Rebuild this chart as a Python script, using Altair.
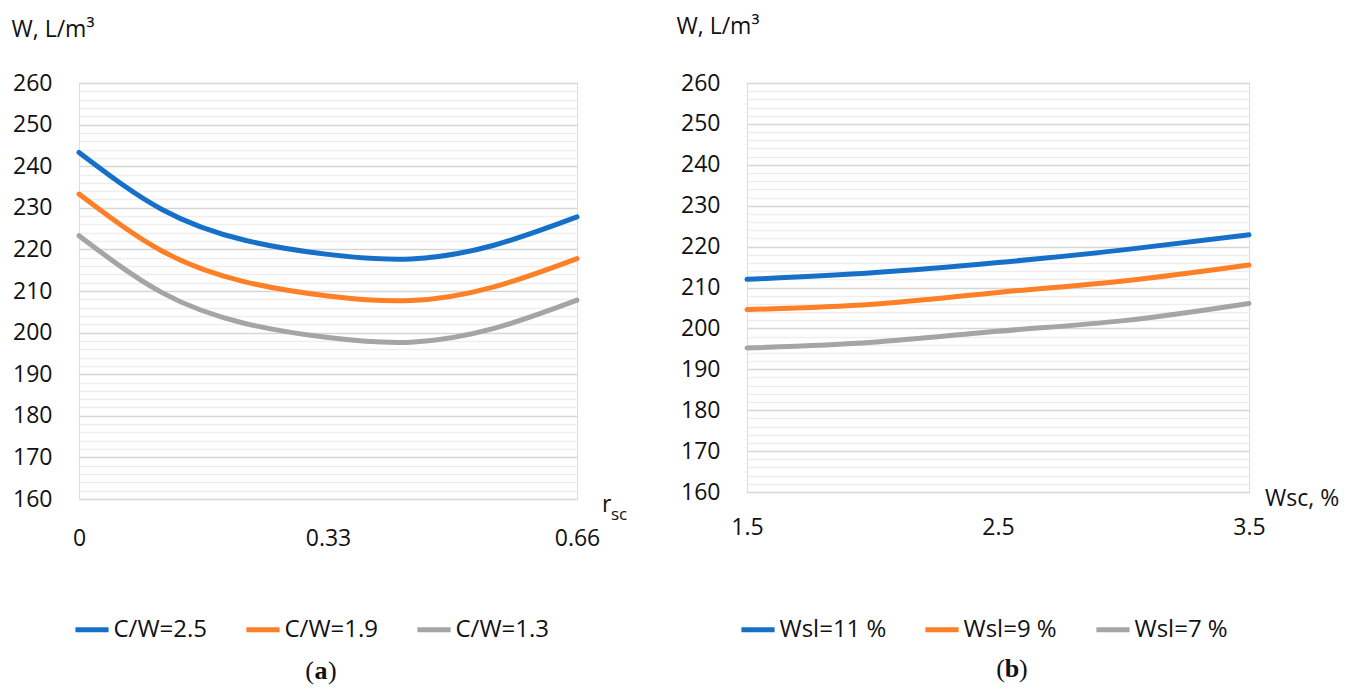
import altair as alt
import pandas as pd

FONT = "Open Sans"
SERIF = "Liberation Serif"
TXT = "#111111"

# ---------------- data: panel (a) ----------------
rsc = [0, 0.11, 0.22, 0.33, 0.44, 0.55, 0.66]
cw25 = [243.3, 229.6, 222.2, 218.8, 217.7, 221.0, 227.8]
cw19 = [233.3, 219.6, 212.2, 208.8, 207.7, 211.0, 217.8]
cw13 = [223.3, 209.6, 202.2, 198.8, 197.7, 201.0, 207.8]
series_a = ["C/W=2.5", "C/W=1.9", "C/W=1.3"]
x_ticks_a = [0, 0.33, 0.66]

# ---------------- data: panel (b) ----------------
wsc = [1.5, 2.0, 2.5, 3.0, 3.5]
wsl11 = [212.0, 213.6, 216.1, 219.2, 222.9]
wsl9 = [204.6, 205.9, 208.8, 211.6, 215.5]
wsl7 = [195.2, 196.6, 199.3, 201.9, 206.1]
series_b = ["Wsl=11 %", "Wsl=9 %", "Wsl=7 %"]
x_ticks_b = [1.5, 2.5, 3.5]

colors = ["#1770C8", "#FF7F27", "#A5A5A5"]
y_ticks = list(range(160, 262, 2))
y_title = "W, L/m\u00b3"


def long_df(xs, names, cols):
    rows = []
    for name, vals in zip(names, cols):
        for x, v in zip(xs, vals):
            rows.append({"x": x, "W": v, "s": name})
    return pd.DataFrame(rows)


df_a = long_df(rsc, series_a, [cw25, cw19, cw13])
df_b = long_df(wsc, series_b, [wsl11, wsl9, wsl7])


def y_axis(tx, ty):
    return alt.Axis(
        values=y_ticks,
        labelExpr="datum.value % 10 === 0 ? datum.label : ''",
        title=y_title, titleAngle=0, titleAlign="left", titleBaseline="middle",
        titleX=tx, titleY=ty, titleFont=FONT, titleFontSize=23,
        titleFontWeight="normal", titleColor=TXT,
        labelFont=FONT, labelFontSize=23, labelColor=TXT, labelPadding=27,
        labelOverlap=False, ticks=False, domain=False, grid=True,
        gridColor={"condition": {"test": "datum.value % 10 === 0", "value": "#D6D6D6"},
                   "value": "#EEEEEE"},
        gridWidth=1.3,
    )


def x_axis(vals, expr, pad):
    return alt.Axis(values=vals, labelExpr=expr, title=None, labelFont=FONT,
                    labelFontSize=23, labelColor=TXT, labelPadding=pad,
                    labelFlush=False, ticks=False, domain=False, grid=False)


def legend(lx, ly):
    return alt.Legend(orient="none", legendX=lx, legendY=ly, direction="horizontal",
                      title=None, symbolType="stroke", symbolSize=1100,
                      symbolStrokeWidth=5, labelFont=FONT, labelFontSize=24,
                      labelColor=TXT, labelOffset=2, columnPadding=28, padding=0)


def txt(t, x, y, size=23, align="left", font=FONT, weight="normal"):
    return alt.Chart(alt.Data(values=[{}])).mark_text(
        text=t, align=align, baseline="middle", font=font, fontSize=size,
        fontWeight=weight, color=TXT
    ).encode(x=alt.value(x), y=alt.value(y))


def caption(letter, cx, cy):
    return [
        txt("(", cx - 7, cy, 26, "right", SERIF),
        txt(letter, cx, cy, 26, "center", SERIF, "bold"),
        txt(")", cx + 7, cy, 26, "left", SERIF),
    ]


# ---------------- panel (a) ----------------
W_A, H_A = 498, 416
lines_a = alt.Chart(df_a).mark_line(strokeWidth=5, interpolate="natural", strokeCap="round").encode(
    x=alt.X("x:Q", scale=alt.Scale(domain=[0, 0.66], nice=False, zero=False),
            axis=x_axis(x_ticks_a, "datum.value === 0 ? '0' : format(datum.value, '.2f')", 28)),
    y=alt.Y("W:Q", scale=alt.Scale(domain=[160, 260], nice=False, zero=False),
            axis=y_axis(-68, -54)),
    color=alt.Color("s:N", scale=alt.Scale(domain=series_a, range=colors),
                    legend=legend(-6.5, 527)),
    order=alt.Order("x:Q"),
)
panel_a = alt.layer(
    lines_a,
    txt("r", 523, 422),
    txt("sc", 532, 432, 17),
    *caption("a", 242, 588),
).properties(width=W_A, height=H_A)

# ---------------- panel (b) ----------------
W_B, H_B = 502, 409
lines_b = alt.Chart(df_b).mark_line(strokeWidth=5, interpolate="natural", strokeCap="round").encode(
    x=alt.X("x:Q", scale=alt.Scale(domain=[1.5, 3.5], nice=False, zero=False),
            axis=x_axis(x_ticks_b, "format(datum.value, '.1f')", 24)),
    y=alt.Y("W:Q", scale=alt.Scale(domain=[160, 260], nice=False, zero=False),
            axis=y_axis(-71, -57)),
    color=alt.Color("s:N", scale=alt.Scale(domain=series_b, range=colors),
                    legend=legend(-8.5, 527)),
    order=alt.Order("x:Q"),
)
panel_b = alt.layer(
    lines_b,
    txt("Wsc, %", 518, 416),
    *caption("b", 265, 586),
).properties(width=W_B, height=H_B)

chart = alt.hconcat(panel_a, panel_b, spacing=47).resolve_scale(
    color="independent", x="independent", y="independent"
).properties(
    padding={"left": 2, "top": 6, "right": 0, "bottom": 0}
).configure_view(stroke=None).configure(background="white")

chart.save("out.html", embed_options={"renderer": "svg", "actions": False})
